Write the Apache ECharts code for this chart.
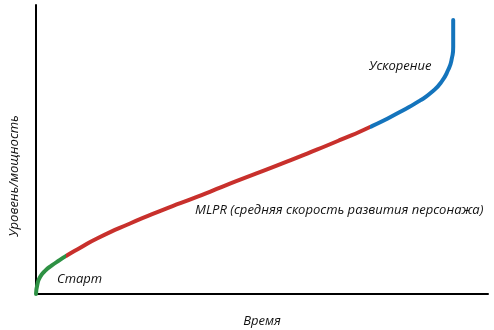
<!DOCTYPE html>
<html>
<head>
<meta charset="utf-8">
<script src="https://cdn.jsdelivr.net/npm/echarts@6/dist/echarts.min.js"></script>
<style>
  html, body { margin: 0; padding: 0; background: #fff; }
  #main { width: 494px; height: 330px; }
</style>
</head>
<body>
<div id="main"></div>
<script>
// кривая прогресса (x - время, y - уровень), шкала 0..100
var curve = [[0, 0], [0.3, 3.3], [0.9, 5.9], [2.0, 8.0], [3.5, 9.9], [5.3, 11.8], [6.6, 13.1],
  [9.7, 15.9], [13.5, 19.2], [20.8, 24.4], [28.1, 29.1], [35.6, 33.6], [42.9, 38.2], [52.4, 43.9],
  [60.0, 48.6], [67.3, 53.3], [73.9, 57.8], [80.5, 63.0], [85.0, 67.0], [87.5, 69.8], [89.6, 73.2],
  [91.2, 77.6], [92.0, 81.5], [92.3, 85.5], [92.3, 94.8]];
// границы участков по x: старт / MLPR / ускорение
var startEnd = 6.6;
var boostStart = 73.9;

var xName = "Время";
var yName = "Уровень/мощность";
var labels = ["Старт", "MLPR (средняя скорость развития персонажа)", "Ускорение"];

var chart = echarts.init(document.getElementById("main"));

var txt = { fontFamily: "Open Sans", fontStyle: "italic", fontSize: 13, fill: "#111" };

chart.setOption({
  animation: false,
  grid: { left: 36, right: 6, top: 5, bottom: 36, outerBoundsMode: "none" },
  visualMap: {
    show: false, type: "piecewise", dimension: 0,
    pieces: [
      { lt: startEnd, color: "#2e9144" },
      { gte: startEnd, lt: boostStart, color: "#c8302c" },
      { gte: boostStart, color: "#1474bc" }
    ]
  },
  xAxis: {
    type: "value", min: 0, max: 100,
    name: xName, nameLocation: "middle", nameGap: 21,
    nameTextStyle: { fontFamily: "Open Sans", fontStyle: "italic", fontSize: 13, color: "#111" },
    axisLine: { onZero: false, lineStyle: { color: "#000", width: 2 } },
    axisTick: { show: false }, axisLabel: { show: false }, splitLine: { show: false }
  },
  yAxis: {
    type: "value", min: 0, max: 100,
    axisLine: { show: true, onZero: false, lineStyle: { color: "#000", width: 2 } },
    axisTick: { show: false }, axisLabel: { show: false }, splitLine: { show: false }
  },
  series: [{
    type: "line",
    data: curve,
    smooth: 0.6,
    symbol: "none",
    lineStyle: { width: 4, cap: "round" },
    z: 3
  }],
  graphic: [
    { type: "text", left: 57, top: 273, style: Object.assign({ text: labels[0] }, txt) },
    { type: "text", left: 195, top: 204, style: Object.assign({ text: labels[1] }, txt) },
    { type: "text", left: 369, top: 60, style: Object.assign({ text: labels[2] }, txt) },
    {
      type: "text", x: 14, y: 176, rotation: Math.PI / 2,
      style: Object.assign({ text: yName, align: "center", verticalAlign: "middle" }, txt)
    }
  ]
});
</script>
</body>
</html>
